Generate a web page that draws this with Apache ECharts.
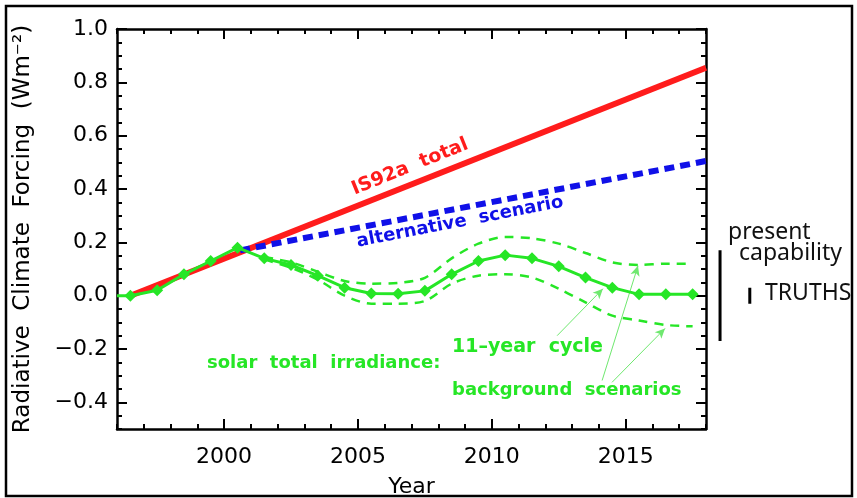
<!DOCTYPE html>
<html>
<head>
<meta charset="utf-8">
<script src="https://cdn.jsdelivr.net/npm/echarts@6/dist/echarts.min.js"></script>
<style>
  html, body { margin: 0; padding: 0; background: #ffffff; }
  #chart { width: 857px; height: 498px; }
</style>
</head>
<body>
<div id="chart"></div>
<script>
// Solar total irradiance forcing, 11-year cycle (mid-year samples)
const solarYears = [1996.5, 1997.5, 1998.5, 1999.5, 2000.5, 2001.5, 2002.5, 2003.5, 2004.5, 2005.5, 2006.5,
                    2007.5, 2008.5, 2009.5, 2010.5, 2011.5, 2012.5, 2013.5, 2014.5, 2015.5, 2016.5, 2017.5];
const solarCycle = [0.0, 0.02, 0.08, 0.13, 0.18, 0.14, 0.115, 0.075, 0.03, 0.008, 0.007,
                    0.018, 0.08, 0.13, 0.152, 0.14, 0.11, 0.068, 0.03, 0.005, 0.005, 0.005];

// Background scenarios around the cycle
const bgYears = [2001.5, 2002.5, 2003.5, 2004.5, 2005.5, 2006.5, 2007.5, 2008.5, 2009.5,
                 2010.5, 2011.5, 2012.5, 2013.5, 2014.5, 2015.5, 2016.5, 2017.5];
const bgUpper = [0.145, 0.125, 0.09, 0.055, 0.045, 0.048, 0.067, 0.14, 0.195,
                 0.22, 0.215, 0.195, 0.16, 0.125, 0.115, 0.12, 0.12];
const bgLower = [0.135, 0.105, 0.06, 0.0, -0.03, -0.03, -0.02, 0.045, 0.075,
                 0.08, 0.068, 0.026, -0.025, -0.075, -0.093, -0.11, -0.115];

// IS92a total and alternative scenario
const is92aYears = [1996.5, 2018];
const is92aValues = [0.0, 0.855];
const altYears = [2000.6, 2018];
const altValues = [0.17, 0.505];

// Measurement capability ranges (W m-2)
const capabilityRange = [-0.17, 0.17];
const truthsRange = [-0.03, 0.03];

// Axis ticks
const xMajorTicks = [2000, 2005, 2010, 2015];
const yMajorTicks = [-0.4, -0.2, 0.0, 0.2, 0.4, 0.6, 0.8, 1.0];

// Annotation arrows: [fromYear, fromValue, toYear, toValue]
const arrows = [
  [2012.44, -0.15, 2014.15, 0.026],
  [2014.12, -0.318, 2015.46, 0.112],
  [2014.49, -0.325, 2016.47, -0.123]
];

const GREEN = '#26e626';
const BASE_FONT = 'DejaVu Sans';
const pairs = (xs, ys) => xs.map((x, i) => [x, ys[i]]);

const X_MIN = 1996, X_MAX = 2018, Y_MIN = -0.5, Y_MAX = 1.0;
const frameLine = { show: true, onZero: false, lineStyle: { color: '#000', width: 2.5 } };
const tickStyle = { color: '#000', width: 2 };

function xAxisPair(position, showLabels) {
  return [
    { type: 'value', gridIndex: 0, position, min: X_MIN, max: X_MAX, interval: 1,
      axisLine: frameLine,
      axisTick: { show: true, inside: true, length: 5, lineStyle: tickStyle },
      axisLabel: { show: false }, splitLine: { show: false } },
    { type: 'value', gridIndex: 0, position, min: X_MIN, max: X_MAX,
      name: showLabels ? 'Year' : '', nameLocation: 'middle', nameGap: 47,
      nameTextStyle: { fontFamily: BASE_FONT, fontSize: 22, color: '#000' },
      axisLine: { show: false, onZero: false },
      axisTick: { show: true, inside: true, length: 10, customValues: xMajorTicks, lineStyle: tickStyle },
      axisLabel: { show: showLabels, customValues: xMajorTicks, margin: 17,
                   fontFamily: BASE_FONT, fontSize: 22, color: '#000', formatter: v => String(Math.round(v)) },
      splitLine: { show: false } }
  ];
}

function yAxisPair(position, showLabels) {
  return [
    { type: 'value', gridIndex: 0, position, min: Y_MIN, max: Y_MAX, interval: 0.05,
      axisLine: frameLine,
      axisTick: { show: true, inside: true, length: 5, lineStyle: tickStyle },
      axisLabel: { show: false }, splitLine: { show: false } },
    { type: 'value', gridIndex: 0, position, min: Y_MIN, max: Y_MAX,
      name: showLabels ? 'Radiative  Climate  Forcing  (Wm\u207B\u00B2)' : '',
      nameLocation: 'middle', nameRotate: 90, nameGap: 82,
      nameTextStyle: { fontFamily: BASE_FONT, fontSize: 23, color: '#000' },
      axisLine: { show: false, onZero: false },
      axisTick: { show: true, inside: true, length: 10, customValues: yMajorTicks, lineStyle: tickStyle },
      axisLabel: { show: showLabels, customValues: yMajorTicks, margin: 9,
                   fontFamily: BASE_FONT, fontSize: 22, color: '#000', padding: [9, 0, 0, 0],
                   formatter: v => (v < -1e-9 ? '\u2212' : '') + Math.abs(v).toFixed(1) },
      splitLine: { show: false } }
  ];
}

const chart = echarts.init(document.getElementById('chart'), null, { renderer: 'canvas' });

const option = {
  animation: false,
  backgroundColor: '#ffffff',
  grid: [
    { left: 117, right: 151, top: 29, bottom: 69, outerBoundsMode: 'none', containLabel: false },
    { left: 706, right: 0, top: 29, bottom: 69, outerBoundsMode: 'none', containLabel: false }
  ],
  xAxis: [
    ...xAxisPair('bottom', true),
    ...xAxisPair('top', false),
    { type: 'value', gridIndex: 1, min: 0, max: 1, show: false }
  ],
  yAxis: [
    ...yAxisPair('left', true),
    ...yAxisPair('right', false),
    { type: 'value', gridIndex: 1, min: Y_MIN, max: Y_MAX, show: false }
  ],
  series: [
    { name: 'IS92a total', type: 'line', xAxisIndex: 0, yAxisIndex: 0,
      data: pairs(is92aYears, is92aValues), symbol: 'none',
      lineStyle: { color: '#ff1c1c', width: 6 }, z: 2 },
    { name: 'alternative scenario', type: 'line', xAxisIndex: 0, yAxisIndex: 0,
      data: pairs(altYears, altValues), symbol: 'none',
      lineStyle: { color: '#1010e8', width: 6, type: [10, 6] }, z: 3 },
    { name: 'background upper', type: 'line', xAxisIndex: 0, yAxisIndex: 0,
      data: pairs(bgYears, bgUpper), symbol: 'none', smooth: 0.3,
      lineStyle: { color: GREEN, width: 2.5, type: [9, 7] }, z: 4 },
    { name: 'background lower', type: 'line', xAxisIndex: 0, yAxisIndex: 0,
      data: pairs(bgYears, bgLower), symbol: 'none', smooth: 0.3,
      lineStyle: { color: GREEN, width: 2.5, type: [9, 7] }, z: 4 },
    { name: 'solar total irradiance', type: 'line', xAxisIndex: 0, yAxisIndex: 0,
      data: [{ value: [X_MIN, solarCycle[0]], symbol: 'none' }].concat(pairs(solarYears, solarCycle)),
      symbol: 'diamond', symbolSize: 12, showAllSymbol: true,
      itemStyle: { color: GREEN }, lineStyle: { color: GREEN, width: 3 }, z: 5,
      markLine: {
        silent: true, symbol: ['none', 'arrow'], symbolSize: [7, 10],
        lineStyle: { color: '#6fe86f', width: 1, type: 'solid' },
        label: { show: false },
        data: arrows.map(a => [{ coord: [a[0], a[1]] }, { coord: [a[2], a[3]] }])
      } },
    { name: 'present capability', type: 'line', xAxisIndex: 4, yAxisIndex: 4,
      data: [[0.093, capabilityRange[0]], [0.093, capabilityRange[1]]], symbol: 'none',
      lineStyle: { color: '#000', width: 3 } },
    { name: 'TRUTHS', type: 'line', xAxisIndex: 4, yAxisIndex: 4,
      data: [[0.29, truthsRange[0]], [0.29, truthsRange[1]]], symbol: 'none',
      lineStyle: { color: '#000', width: 3 } }
  ],
  graphic: [
    { type: 'rect', shape: { x: 6, y: 6, width: 846, height: 490 },
      style: { fill: 'none', stroke: '#000', lineWidth: 2.5 }, z: 100 },
    { type: 'text', x: 410, y: 167, rotation: 22 * Math.PI / 180,
      style: { text: 'IS92a  total', fill: '#ff1c1c', font: 'bold 19px "DejaVu Sans"', align: 'center', verticalAlign: 'middle' } },
    { type: 'text', x: 460, y: 222, rotation: 11 * Math.PI / 180,
      style: { text: 'alternative  scenario', fill: '#1010e8', font: 'bold 18px "DejaVu Sans"', align: 'center', verticalAlign: 'middle' } },
    { type: 'text', x: 207, y: 363,
      style: { text: 'solar  total  irradiance:', fill: GREEN, font: 'bold 18px "DejaVu Sans"', align: 'left', verticalAlign: 'middle' } },
    { type: 'text', x: 452, y: 347,
      style: { text: '11\u2013year  cycle', fill: GREEN, font: 'bold 19px "DejaVu Sans"', align: 'left', verticalAlign: 'middle' } },
    { type: 'text', x: 452, y: 390,
      style: { text: 'background  scenarios', fill: GREEN, font: 'bold 18px "DejaVu Sans"', align: 'left', verticalAlign: 'middle' } },
    { type: 'text', x: 728, y: 232,
      style: { text: 'present', fill: '#111', font: '23px "Noto Sans"', align: 'left', verticalAlign: 'middle' } },
    { type: 'text', x: 739, y: 253,
      style: { text: 'capability', fill: '#111', font: '23px "Noto Sans"', align: 'left', verticalAlign: 'middle' } },
    { type: 'text', x: 765, y: 293,
      style: { text: 'TRUTHS', fill: '#111', font: '23px "Noto Sans"', align: 'left', verticalAlign: 'middle' } }
  ]
};

chart.setOption(option);
</script>
</body>
</html>
